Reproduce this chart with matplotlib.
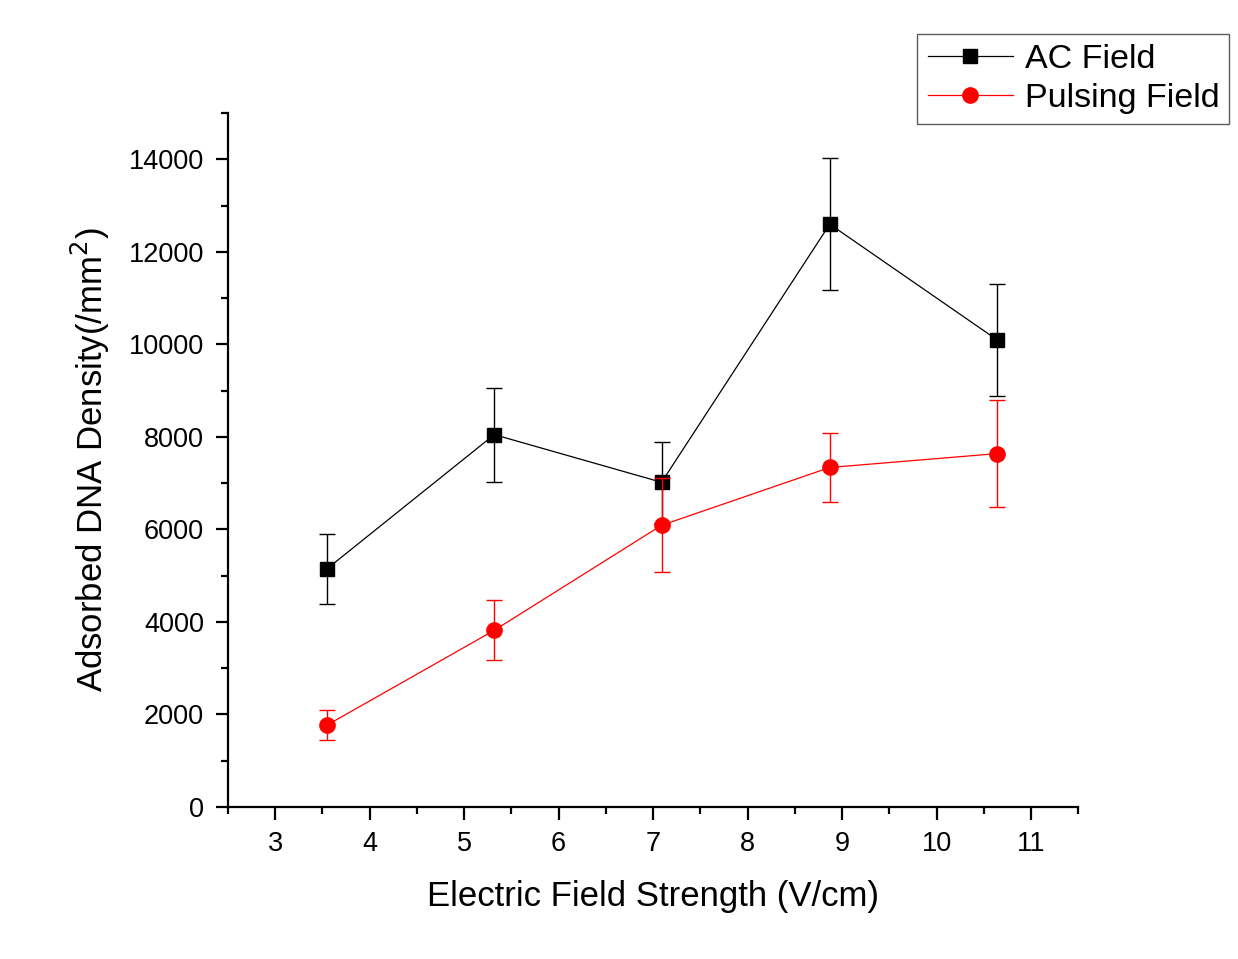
import matplotlib
matplotlib.use("Agg")
import matplotlib.pyplot as plt
from matplotlib.ticker import MultipleLocator
from matplotlib.lines import Line2D

plt.rcParams['font.family'] = ['Liberation Sans', 'DejaVu Sans']

field = [3.55, 5.32, 7.09, 8.87, 10.64]
ac_vals = [5150, 8050, 7020, 12600, 10100]
ac_err = [760, 1015, 880, 1420, 1210]
pulse_vals = [1770, 3820, 6090, 7340, 7640]
pulse_err = [325, 650, 1015, 740, 1150]

fig = plt.figure(figsize=(12.38, 9.59), dpi=100)
ax = fig.add_axes([0.184, 0.1585, 0.687, 0.7235])

ax.errorbar(field, ac_vals, yerr=ac_err, color='black', marker='s', markersize=9.5,
            linewidth=0.9, elinewidth=1.0, capsize=6, capthick=1.0, zorder=3)
ax.errorbar(field, pulse_vals, yerr=pulse_err, color='#ff0000', marker='o', markersize=11,
            linewidth=0.9, elinewidth=1.0, capsize=6, capthick=1.0, zorder=4)

ax.set_xlim(2.5, 11.5)
ax.set_ylim(0, 15000)
ax.set_xticks(range(3, 12))
ax.set_yticks(range(0, 15000, 2000))
ax.xaxis.set_minor_locator(MultipleLocator(0.5))
ax.yaxis.set_minor_locator(MultipleLocator(1000))

for s in ['top', 'right']:
    ax.spines[s].set_visible(False)
for s in ['left', 'bottom']:
    ax.spines[s].set_linewidth(1.6)

ax.tick_params(which='major', direction='out', length=9, width=1.6, labelsize=19.5, pad=8)
ax.tick_params(which='minor', direction='out', length=5, width=1.6)

ax.set_xlabel('Electric Field Strength (V/cm)', fontsize=25, labelpad=17)
ax.set_ylabel('Adsorbed DNA Density(/mm$^2$)', fontsize=25, labelpad=12)

handles = [Line2D([], [], color='black', marker='s', markersize=9.5, linewidth=0.9),
           Line2D([], [], color='#ff0000', marker='o', markersize=11, linewidth=0.9)]
leg = fig.legend(handles, ['AC Field', 'Pulsing Field'], loc='upper right',
                 bbox_to_anchor=(0.993, 0.965), fontsize=24.5,
                 frameon=True, fancybox=False, edgecolor='#333333', borderpad=0.3,
                 handlelength=2.5, handletextpad=0.35, labelspacing=0.25, borderaxespad=0)
leg.get_frame().set_linewidth(1.0)
fig.savefig('out.png', dpi=100, facecolor='white')
